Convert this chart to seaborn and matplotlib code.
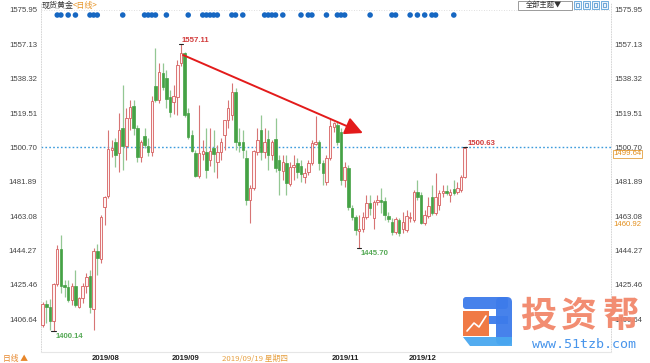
import numpy as np
import pandas as pd
import matplotlib
matplotlib.use("Agg")
import matplotlib.pyplot as plt
import seaborn as sns
from matplotlib.patches import Rectangle, Polygon, FancyBboxPatch
import matplotlib.transforms as mtrans

# ---------------- data ----------------
opens = [1403.5, 1415.0, 1413.4, 1405.7, 1426.0, 1445.1, 1425.4, 1424.4, 1417.2, 1424.9,
         1413.4, 1418.3, 1424.9, 1430.4, 1412.3, 1444.0, 1439.7, 1468.1, 1474.2, 1499.3,
         1503.7, 1497.7, 1511.4, 1501.5, 1516.8, 1523.4, 1511.4, 1495.5, 1507.0, 1501.5,
         1498.2, 1534.4, 1526.7, 1541.5, 1538.7, 1528.3, 1525.6, 1528.3, 1546.9, 1552.4,
         1519.6, 1507.5, 1497.7, 1485.1, 1497.2, 1498.2, 1493.9, 1500.4, 1492.8, 1498.2,
         1507.5, 1515.7, 1518.5, 1531.1, 1503.7, 1503.7, 1494.9, 1472.0, 1478.5, 1498.2,
         1510.3, 1498.2, 1505.3, 1496.6, 1505.3, 1493.9, 1487.8, 1492.2, 1480.7, 1490.0,
         1492.2, 1490.6, 1484.6, 1487.3, 1492.2, 1502.6, 1503.7, 1492.2, 1481.8, 1494.9,
         1511.9, 1513.0, 1509.2, 1482.9, 1489.5, 1467.6, 1462.7, 1455.0, 1456.1, 1462.7,
         1470.3, 1462.1, 1470.9, 1472.0, 1471.4, 1463.2, 1459.9, 1454.4, 1461.0, 1456.1,
         1455.5, 1462.1, 1461.0, 1476.3, 1474.7, 1459.4, 1463.2, 1473.6, 1464.9, 1469.2,
         1475.8, 1476.9, 1474.7, 1478.0, 1476.3, 1477.4, 1484.6]
highs = [1416.1, 1417.2, 1417.8, 1426.5, 1447.3, 1452.8, 1428.2, 1428.2, 1426.5, 1433.6,
         1418.9, 1426.5, 1432.0, 1433.6, 1445.7, 1447.9, 1463.8, 1474.2, 1510.3, 1504.8,
         1505.9, 1519.6, 1534.9, 1522.3, 1526.7, 1526.7, 1513.0, 1504.8, 1511.4, 1505.9,
         1528.9, 1555.2, 1546.9, 1546.9, 1543.1, 1532.2, 1534.9, 1548.6, 1557.11, 1553.0,
         1522.3, 1510.3, 1499.3, 1523.9, 1504.8, 1511.4, 1511.4, 1510.3, 1502.1, 1505.9,
         1515.7, 1526.7, 1536.0, 1533.3, 1511.4, 1510.3, 1499.3, 1480.2, 1499.3, 1511.4,
         1518.5, 1511.4, 1510.3, 1504.8, 1516.8, 1496.6, 1496.6, 1496.6, 1492.8, 1496.6,
         1494.9, 1493.9, 1489.5, 1493.9, 1504.8, 1517.9, 1504.8, 1493.9, 1496.6, 1516.8,
         1514.6, 1514.6, 1511.4, 1492.8, 1491.1, 1469.2, 1463.8, 1463.8, 1465.4, 1474.7,
         1474.7, 1472.0, 1474.7, 1478.5, 1473.6, 1465.4, 1462.1, 1462.7, 1462.1, 1465.4,
         1466.5, 1465.4, 1477.4, 1482.9, 1476.3, 1466.5, 1473.6, 1480.2, 1486.7, 1477.4,
         1480.2, 1480.2, 1478.0, 1482.9, 1481.8, 1485.7, 1501.0]
lows = [1402.4, 1404.6, 1400.8, 1400.14, 1424.9, 1421.1, 1418.9, 1416.1, 1414.5, 1413.4,
        1412.9, 1415.6, 1421.1, 1410.1, 1400.8, 1430.9, 1437.5, 1458.3, 1473.1, 1495.5,
        1490.0, 1487.3, 1488.4, 1493.9, 1510.3, 1507.5, 1492.8, 1492.8, 1500.4, 1496.1,
        1496.1, 1525.6, 1525.0, 1532.2, 1522.3, 1517.4, 1519.0, 1518.5, 1545.3, 1517.4,
        1505.3, 1498.2, 1484.6, 1484.0, 1493.9, 1484.0, 1490.6, 1487.3, 1484.0, 1493.9,
        1499.3, 1511.4, 1515.7, 1499.3, 1498.2, 1494.9, 1469.2, 1459.4, 1477.4, 1496.6,
        1493.9, 1494.9, 1488.4, 1493.9, 1487.3, 1474.7, 1482.9, 1474.7, 1479.6, 1482.9,
        1484.0, 1481.8, 1481.3, 1485.7, 1491.1, 1502.1, 1488.4, 1480.2, 1480.2, 1493.9,
        1509.2, 1502.1, 1480.2, 1479.1, 1466.5, 1461.0, 1452.8, 1445.70, 1454.4, 1461.6,
        1463.8, 1456.1, 1469.2, 1464.9, 1461.0, 1459.9, 1452.8, 1453.4, 1452.3, 1453.9,
        1454.4, 1459.9, 1459.9, 1472.0, 1458.8, 1458.3, 1462.1, 1463.8, 1463.8, 1466.5,
        1473.6, 1474.7, 1470.9, 1474.7, 1475.2, 1476.3, 1484.0]
closes = [1415.0, 1413.4, 1405.7, 1426.0, 1445.1, 1424.9, 1424.4, 1417.2, 1424.9, 1414.5,
          1418.3, 1424.9, 1429.8, 1413.4, 1444.0, 1440.2, 1462.7, 1473.6, 1499.9, 1500.4,
          1496.6, 1510.3, 1501.5, 1516.8, 1522.9, 1511.4, 1495.5, 1503.7, 1502.1, 1498.2,
          1526.1, 1526.7, 1542.0, 1533.8, 1527.2, 1520.1, 1528.9, 1545.8, 1552.4, 1518.5,
          1506.4, 1498.8, 1485.1, 1497.7, 1498.8, 1488.4, 1498.8, 1497.2, 1498.2, 1503.7,
          1515.7, 1522.3, 1531.1, 1503.7, 1502.1, 1499.3, 1472.0, 1478.5, 1499.0, 1504.8,
          1498.2, 1503.7, 1496.6, 1503.7, 1489.5, 1488.4, 1492.8, 1481.3, 1490.0, 1491.1,
          1487.3, 1486.2, 1486.7, 1492.2, 1503.2, 1503.7, 1492.2, 1486.7, 1494.9, 1512.5,
          1514.1, 1503.7, 1482.9, 1490.0, 1468.1, 1462.7, 1455.5, 1456.1, 1462.7, 1470.3,
          1467.6, 1470.9, 1472.0, 1470.9, 1463.8, 1461.6, 1454.4, 1461.6, 1453.9, 1459.9,
          1463.2, 1462.7, 1476.3, 1473.6, 1459.4, 1463.8, 1468.7, 1464.9, 1473.6, 1475.8,
          1476.9, 1475.8, 1476.3, 1475.8, 1478.5, 1484.6, 1500.63]

month_labels = ["2019/08", "2019/09", "2019/11", "2019/12"]
month_first_candle = [14, 36, 80, 101]
price_ticks = [1575.95, 1557.13, 1538.32, 1519.51, 1500.70,
               1481.89, 1463.08, 1444.27, 1425.46, 1406.64]
event_candles = [4, 5, 7, 9, 13, 14, 15, 22, 28, 29, 30, 31, 34, 40, 44, 45, 46, 47, 48,
                 52, 53, 55, 61, 62, 63, 64, 66, 71, 73, 74, 78, 81, 82, 83, 90, 96, 97,
                 101, 103, 105, 107, 108, 113]
last_price_line = 1500.70
marked_high = (38, 1557.11)
marked_lows = [(3, 1400.14), (87, 1445.70)]
marked_last = (116, 1500.63)
trend_from = (38.6, 1551.3)
trend_to = (88.0, 1508.6)
side_box_value = "1499.64"
side_plain_value = "1460.92"
watermark_chars = ["投", "资", "帮"]
watermark_url = "www.51tzb.com"

df = pd.DataFrame({"o": opens, "h": highs, "l": lows, "c": closes})
df["i"] = np.arange(len(df))
df["up"] = df["c"] >= df["o"]

# ---------------- style ----------------
sns.set_theme(style="white")
plt.rcParams["font.family"] = ["Liberation Sans", "Noto Sans CJK SC", "DejaVu Sans"]
CJK = ["Noto Sans CJK SC", "DejaVu Sans"]

W, H = 650, 363
fig = plt.figure(figsize=(W / 100, H / 100), dpi=100)
ax_l, ax_r, ax_t, ax_b = 40.5, 611.0, 3.0, 352.0
ax = fig.add_axes([ax_l / W, 1 - ax_b / H, (ax_r - ax_l) / W, (ax_b - ax_t) / H])

px_per_candle = 3.638
x0_px = 42.7
ax.set_xlim((ax_l - x0_px) / px_per_candle, (ax_r - x0_px) / px_per_candle)
k = 1.827
ax.set_ylim(1575.95 - (ax_b - 10) / k, 1575.95 + (10 - ax_t) / k)

UP_EDGE = "#D65F5F"
UP_FACE = "#FFF3F3"
DN_FACE = "#45A245"
DN_WICK = "#93C793"
UP_WICK = "#D77575"

up = df[df["up"]]
dn = df[~df["up"]]
ax.vlines(up["i"], up["l"], up["h"], colors=UP_WICK, lw=0.8, zorder=2)
ax.vlines(dn["i"], dn["l"], dn["h"], colors=DN_WICK, lw=0.9, zorder=2)
bw = 0.68
for _, r in df.iterrows():
    lo, hi = min(r.o, r.c), max(r.o, r.c)
    hgt = max(hi - lo, 0.45)
    if r.up:
        ax.bar(r.i, hgt, bottom=lo, width=bw, facecolor=UP_FACE, edgecolor=UP_EDGE,
               linewidth=0.6, zorder=3)
    else:
        ax.bar(r.i, hgt, bottom=lo, width=bw, facecolor=DN_FACE, edgecolor=DN_FACE,
               linewidth=0.5, zorder=3)

# current price dotted line
ax.axhline(last_price_line, color="#3C9BDC", lw=1.0, ls=(0, (1.2, 1.6)), zorder=1)
# top dotted border
ax.axhline(price_ticks[0], color="#D5D5D5", lw=0.6, ls=(0, (1, 2)), zorder=0)

# event dots
ev = pd.DataFrame({"i": event_candles, "y": [1573.2] * len(event_candles)})
sns.scatterplot(data=ev, x="i", y="y", ax=ax, color="#1667C2", s=16, edgecolor="none",
                zorder=4, legend=False)

# trend arrow
ax.annotate("", xy=trend_to, xytext=trend_from,
            arrowprops=dict(arrowstyle="-|>,head_length=0.9,head_width=0.45",
                            color="#E31B1B", lw=1.4, shrinkA=0, shrinkB=0), zorder=5)

# markers and labels
hi_i, hi_v = marked_high
ax.plot([hi_i - 0.5, hi_i + 0.5], [hi_v, hi_v], color="#222", lw=0.8, zorder=5)
ax.text(hi_i + 0.2, hi_v + 1.9, f"{hi_v:.2f}", color="#D23A3A", fontsize=5.6,
        fontweight="bold", ha="left", va="center")
for li, lv in marked_lows:
    ax.plot([li - 0.6, li + 0.6], [lv, lv], color="#222", lw=0.8, zorder=5)
    ax.text(li + 0.4, lv - 2.8, f"{lv:.2f}", color="#55A955", fontsize=5.6,
            fontweight="bold", ha="left", va="center")
la_i, la_v = marked_last
ax.plot([la_i - 0.5, la_i + 0.5], [highs[-1], highs[-1]], color="#222", lw=0.8, zorder=5)
ax.text(la_i + 0.9, la_v + 2.0, f"{la_v:.2f}", color="#D23A3A", fontsize=5.6,
        fontweight="bold", ha="left", va="center")

# axes / ticks
ax.set_yticks(price_ticks)
ax.set_yticklabels([f"{v:.2f}" for v in price_ticks])
ax.tick_params(axis="y", which="both", length=0, labelsize=5.6, labelcolor="#444",
               left=False, right=False, labelleft=True, labelright=True, pad=2.5)
ax.set_xticks([m - 0.5 for m in month_first_candle])
ax.set_xticklabels(month_labels)
ax.tick_params(axis="x", length=0, labelsize=5.6, labelcolor="#222", pad=2.5)
for t in ax.get_xticklabels():
    t.set_fontweight("bold")
    t.set_ha("left")
ax.grid(False)
for s in ["left", "right"]:
    ax.spines[s].set_color("#CFCFCF")
    ax.spines[s].set_linestyle((0, (1, 2)))
    ax.spines[s].set_linewidth(0.6)
ax.spines["top"].set_visible(False)
ax.spines["bottom"].set_color("#E6E6E6")
ax.spines["bottom"].set_linewidth(0.8)
ax.set_xlabel("")
ax.set_ylabel("")

# orange side values on the right axis
tr = mtrans.blended_transform_factory(ax.transAxes, ax.transData)
ax.text(1.004, 1575.95 - (154 - 10) / k, side_box_value, transform=tr, fontsize=5.6,
        color="#E3901F", ha="left", va="center",
        bbox=dict(boxstyle="square,pad=0.1", fc="white", ec="#E3A040", lw=0.6), zorder=6)
ax.text(1.004, 1575.95 - (225 - 10) / k, side_plain_value, transform=tr, fontsize=5.6,
        color="#E3901F", ha="left", va="center")

# ---------------- overlay: title, buttons, footer, watermark ----------------
ov = fig.add_axes([0, 0, 1, 1], zorder=10)
ov.set_xlim(0, W)
ov.set_ylim(H, 0)
ov.axis("off")
ov.patch.set_alpha(0)

ov.text(42, 5.5, "现货黄金", fontsize=5.8, color="#333", ha="left", va="center", family=CJK)
ov.text(72.5, 5.5, "<日线>", fontsize=5.8, color="#E7962A", ha="left", va="center",
        family=CJK)

ov.add_patch(Rectangle((517.5, 0.5), 54, 9, fc="white", ec="#8C8C8C", lw=0.6))
ov.text(544, 5, "全部主题▼", fontsize=5.2, color="#333", ha="center", va="center",
        family=CJK)
for j in range(4):
    x = 574 + j * 9
    ov.add_patch(Rectangle((x, 1), 7, 7.5, fc="#EAF3FB", ec="#5AA0D8", lw=0.6))
    ov.add_patch(Rectangle((x + 2, 3), 3, 3.5, fc="none", ec="#3B86C8", lw=0.5))

ov.text(3, 358.5, "日线 ▲", fontsize=5.6, color="#E7862A", ha="left", va="center",
        family=CJK)
ov.text(222, 358.5, "2019/09/19 星期四", fontsize=5.6, color="#E7A040", ha="left",
        va="center", family=CJK)

# watermark logo
blue = "#3D7BEA"
ov.add_patch(FancyBboxPatch((463, 297), 45, 12, boxstyle="round,pad=0,rounding_size=3",
                            fc=blue, ec="none", alpha=0.95))
ov.add_patch(FancyBboxPatch((496, 297), 16, 48, boxstyle="round,pad=0,rounding_size=5",
                            fc=blue, ec="none", alpha=0.95))
ov.add_patch(Rectangle((486, 316), 22, 8, fc=blue, ec="none", alpha=0.95))
ov.add_patch(Polygon([(470, 346), (512, 346), (512, 337), (463, 337)], closed=True,
                     fc="#4AA8F0", ec="none", alpha=0.95))
ov.add_patch(Rectangle((463, 311), 26, 25, fc="#F07A45", ec="none"))
ov.plot([467, 474, 479, 486], [331, 323, 327, 316], color="white", lw=1.2)
for cx, ch in zip([538, 579, 621], watermark_chars):
    ov.text(cx, 316, ch, fontsize=26, color="#F2876A", ha="center", va="center",
            fontweight="bold", family=CJK, alpha=0.95)
ov.text(584, 344, watermark_url, fontsize=9.6, color="#3E8FEA", ha="center",
        va="center", family=["DejaVu Sans Mono", "DejaVu Sans"], alpha=0.95)

fig.savefig("out.png", dpi=100)
